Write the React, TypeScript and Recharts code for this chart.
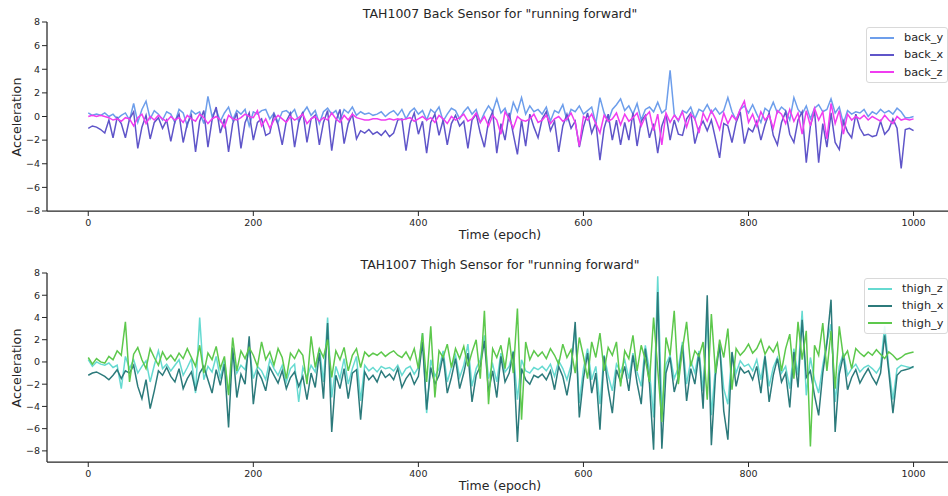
import { LineChart, Line, XAxis, YAxis, Legend } from "recharts";

const FONT = '"DejaVu Sans", sans-serif';
const INK = "#262626";

// sampled every 5 epochs, one row per 50 epochs
const backY = [
  0.3, 0.1, 0.2, 0.1, 0.3, 0.0, 0.2, -0.2, 0.1, 0.3,
  -0.3, 1.1, -0.5, 0.6, 1.3, -0.2, 0.5, 0.2, -0.3, 0.4,
  0.2, -0.5, 0.6, 0.3, -0.8, 0.5, 0.2, 0.4, -0.6, 1.7,
  0.0, 0.6, -0.4, 0.3, 0.8, -0.3, 0.5, 0.2, 0.6, -0.8,
  0.4, 0.2, 0.5, 0.6, -0.2, 0.3, -0.5, 0.4, 0.5, 0.2,
  0.6, -0.4, 0.3, 0.8, 0.1, 0.5, -0.6, 0.4, 0.7, 0.2,
  0.5, -0.3, 0.6, 0.3, 0.8, 0.1, 0.4, 0.2, 0.3, 0.1,
  0.2, 0.4, 0.0, 0.3, 0.5, 0.1, 0.6, -0.2, 0.4, 0.7,
  0.2, 0.5, -0.3, 0.6, 0.3, 0.8, -0.4, 0.2, 0.7, 0.5,
  -0.2, 0.4, 0.8, 0.2, 0.6, -0.5, 0.3, 0.9, 0.4, 1.5,
  0.3, 0.7, -0.3, 1.2, 0.4, 1.6, 0.2, 0.9, 0.4, 0.6,
  0.2, 0.8, -0.4, 0.5, 0.3, 1.0, -0.3, 0.6, 0.4, 0.9,
  0.2, 0.5, 0.8, -0.6, 1.6, 0.3, -0.4, 0.6, 1.0, 1.5,
  0.5, 0.9, 0.2, 1.1, -0.3, 0.6, 0.8, 0.4, 1.2, 0.3,
  0.6, 3.9, 0.2, -0.4, 0.5, 0.3, 0.8, -0.2, 0.6, 0.4,
  1.0, 0.3, 0.7, 0.2, 0.5, 1.6, 0.4, -0.3, 0.6, 0.9,
  0.3, 1.0, 0.2, -0.5, 0.7, 0.4, 1.2, 0.3, 0.8, 0.5,
  -0.3, 1.6, 0.6, 0.2, 0.9, -0.2, 0.7, 1.0, 0.4, 0.6,
  1.5, 0.3, 0.8, -0.6, 0.5, 0.2, 0.4, 0.3, 0.6, 0.0,
  0.4, 0.2, 0.6, 0.3, 0.5, 0.2, 0.7, 0.4, -0.1, -0.1,
  0.0,
];

const backX = [
  -1.0, -0.8, -0.9, -1.1, -1.4, -0.3, -1.8, -0.1, -0.6, -1.8,
  -0.2, 0.4, -2.7, -0.9, 0.1, -1.9, -0.5, -0.1, -1.0, -0.3,
  -2.1, -0.4, 0.2, -2.2, -0.6, 0.1, -3.0, -0.4, 0.5, -2.6,
  -0.3, 0.8, -1.4, -0.2, -3.0, -0.6, 0.3, -2.7, -0.5, 0.3,
  -2.0, -0.5, -0.2, -1.6, -1.4, 0.2, -0.7, -2.4, -0.4, 0.3,
  -2.6, -0.5, 0.4, -2.2, -0.2, 0.1, -2.4, -0.5, 0.5, -2.9,
  -0.4, 0.6, -2.3, -0.6, 0.2, -1.9, -1.2, -1.4, -1.1, -1.5,
  -1.3, -1.6, -1.2, -1.7, -1.4, -0.3, -0.2, -2.9, -0.6, 0.3,
  -1.5, -0.4, -3.1, -0.5, 0.2, -1.6, -0.3, -2.4, -0.6, 0.1,
  -0.8, -0.4, -2.7, -0.3, 0.2, -1.4, -2.6, -0.4, 0.4, -3.1,
  -0.6, -2.0, 0.3, -1.5, -3.2, -0.3, -2.5, 0.2, -0.9, -1.8,
  -0.2, 0.4, -1.2, -0.4, -3.0, -0.8, 0.2, -1.0, -0.4, -2.6,
  -0.9, 0.3, -1.4, -0.5, -3.7, -1.0, 0.2, -2.0, -0.3, -2.4,
  -0.5, -2.0, 0.3, -2.5, -0.4, 0.1, -1.8, -0.6, -3.1, -0.8,
  0.2, -2.0, -0.3, -1.5, -1.6, -0.2, 0.3, -2.3, -1.0, -0.4,
  -1.2, -0.3, -1.9, -3.5, -0.6, -0.8, -2.2, -0.5, 0.4, -2.3,
  -1.0, -1.3, -0.4, -2.0, -0.7, 0.3, -1.6, -2.4, -0.5, 0.4,
  -1.5, -2.2, -0.3, 0.4, -3.9, -0.8, 0.5, -3.9, -0.6, -2.6,
  0.3, -2.2, -2.8, -0.4, -1.3, -1.8, 0.2, -1.0, -1.6, -1.5,
  -1.7, -1.6, -0.4, -1.5, -1.1, -0.2, -1.0, -4.4, -1.1, -1.0,
  -1.2,
];

const backZ = [
  0.0, 0.1, 0.0, 0.1, 0.0, -0.1, -0.3, -0.2, -0.4, -0.1,
  -0.2, -0.8, -0.1, 0.2, -0.6, 0.0, -0.3, 0.1, -0.2, -0.4,
  0.0, -0.3, -0.1, -0.5, 0.1, -0.2, -0.4, 0.2, -0.1, -0.6,
  -0.2, 0.0, -0.3, -0.9, 0.1, -0.2, -0.3, -0.1, 0.2, 0.0,
  -0.1, 0.5, -0.8, -0.2, -1.0, -0.3, 0.1, -0.2, -0.5, 0.0,
  -0.3, -0.1, 0.2, -0.6, -0.2, 0.0, -0.4, -0.1, -0.3, 0.3,
  -0.2, -0.5, 0.1, -0.3, 0.2, -0.1, -0.2, -0.3, -0.3, -0.2,
  -0.2, -0.3, -0.3, -0.2, -0.3, -0.2, -0.3, -0.2, -0.1, -0.4,
  -0.2, 0.0, -0.3, -0.1, -0.5, 0.1, -0.2, -0.6, 0.0, -0.3,
  -0.1, 0.2, -0.4, -0.2, 0.3, -0.5, 0.0, -0.8, 0.1, -0.3,
  -1.5, 0.4, -0.2, -1.0, 0.0, -0.3, -0.4, -0.2, 0.2, -0.5,
  -0.3, 0.1, -0.6, -0.2, 0.0, -0.4, -0.2, 0.3, -0.5, -2.5,
  0.0, -0.3, 0.2, -0.6, -1.4, 0.1, -0.4, -0.2, 0.3, -0.7,
  0.2, -0.4, -0.1, 0.3, -0.8, 0.0, 0.4, -1.2, 0.2, -2.4,
  0.3, -0.5, 0.1, -0.3, 0.4, -0.9, 0.2, -0.2, -1.4, 0.3,
  -0.4, 0.5, -0.2, -1.1, 0.3, -0.6, 0.1, -0.3, 0.6, 1.3,
  -0.5, 0.2, -0.8, 0.4, -0.3, 0.1, -1.0, 0.5, 0.2, -0.6,
  0.6, -0.4, 0.3, -1.5, 0.5, -0.8, 0.7, -0.3, 0.4, -1.9,
  1.1, -0.6, 0.5, -1.5, 0.2, -0.3, 0.0, -0.2, 0.1, -0.3,
  0.0, -0.2, -0.4, 0.1, -0.3, -0.6, 0.0, -0.3, -0.2, -0.3,
  -0.2,
];

const thighZ = [
  0.2, -0.4, 0.0, -0.2, -0.3, -0.1, -0.5, -0.3, -2.4, 0.5,
  -0.6, 0.2, -1.0, -0.4, 0.1, -1.8, -0.3, 1.0, -0.6, -0.2,
  -0.8, -0.3, 0.2, -1.2, -0.5, 0.3, -2.8, 4.0, -1.6, -0.4,
  -0.9, 0.5, -1.5, 0.2, -2.9, 0.8, -1.0, -0.3, -0.7, 1.2,
  -1.5, -0.4, -0.8, -1.6, 0.2, -0.6, -1.2, -0.3, -1.8, -0.6,
  -0.2, -3.6, -0.5, -1.4, -0.3, -0.9, 1.2, -1.8, 4.0, -3.2,
  -0.4, -1.5, 0.3, -2.0, -0.6, 0.5, -3.5, -0.3, -0.8, -0.5,
  -0.9, -0.4, -0.6, -0.5, -0.8, -0.3, -1.2, -0.6, -0.4, -1.1,
  -0.5, 2.6, -4.6, 0.2, -1.3, -0.6, 1.0, -1.8, -0.5, 0.6,
  -1.4, -0.3, 1.6, -2.2, -0.6, 0.2, 2.4, -1.5, -0.2, -1.8,
  0.8, -0.9, -0.4, 1.0, -3.4, 0.2, -0.8, -1.0, -0.5, -0.7,
  -0.4, -0.8, -0.2, -1.3, 0.1, -0.6, -1.6, -0.3, 3.1, -3.7,
  -0.6, 1.2, -1.6, -0.4, -3.8, 0.6, -1.2, -2.6, -0.2, -0.9,
  0.2, -1.5, 0.8, -0.9, -2.2, 1.5, -0.8, -5.0, 7.7, -4.5,
  -0.2, 0.6, -1.5, -0.5, 1.8, -2.0, 0.1, -1.0, 1.0, -2.6,
  4.2, -4.8, -0.4, 1.4, -2.4, -3.8, 0.8, -1.0, 0.1, -0.4,
  -0.2, -0.8, 0.2, -1.6, 0.6, -2.2, -0.5, 0.4, -1.0, -0.4,
  -2.4, 1.2, -1.2, 4.6, -3.0, 0.4, -1.6, -2.8, -0.3, 1.8,
  3.4, -3.6, -0.4, 0.8, -1.2, -0.6, -0.2, -0.9, -0.5, -0.3,
  -0.6, -1.0, -0.4, 3.2, -0.5, -3.4, -0.6, -0.3, -0.4, -0.5,
  -0.5,
];

const thighX = [
  -1.2, -1.0, -0.9, -1.1, -1.3, -1.6, -1.2, -0.7, -1.5, -0.8,
  -1.0, -0.3, -2.2, -3.3, -1.6, -4.2, -2.6, -0.8, -1.2, -0.5,
  -1.3, -1.8, -0.6, -2.4, -1.5, -0.9, -2.6, -1.0, -0.4, -1.6,
  -2.8, -0.7, -2.1, -0.2, -5.9, 1.3, -3.2, -1.1, -2.0, 2.3,
  -3.8, -0.8, -1.5, -2.6, -0.5, -1.2, -1.9, -0.8, -2.4, -1.4,
  -0.9, -2.2, -1.3, -3.4, -1.0, -2.3, 0.8, -3.3, 3.5, -6.3,
  -1.2, -2.4, -0.6, -3.3, -1.0, -0.7, -5.2, -0.9, -1.6, -1.2,
  -1.8, -0.8, -1.4, -1.1, -1.6, -0.6, -2.3, -1.5, -1.0, -2.0,
  -1.3, 1.8, -4.3, -0.5, -2.0, -1.2, 0.6, -2.8, -1.4, 0.3,
  -2.4, -1.0, 0.8, -3.6, -1.2, -0.4, 1.9, -2.7, -0.8, -3.2,
  0.5, -1.8, -1.0, 0.9, -7.2, -0.6, -1.6, -2.0, -1.2, -1.4,
  -1.1, -1.6, -0.8, -2.5, -0.4, -1.3, -3.0, -0.9, 3.6, -5.0,
  -1.5, 0.8, -2.8, -1.0, -6.1, 0.5, -2.4, -4.6, -0.7, -1.8,
  -0.4, -2.6, 0.6, -1.9, -3.8, 1.2, -2.0, -7.9, 6.3, -7.8,
  -1.0, 0.4, -2.7, -1.3, 1.5, -3.5, -0.6, -2.0, 0.8, -4.2,
  6.0, -7.5, -1.2, 1.6, -4.4, -7.0, 0.9, -2.2, -0.5, -1.0,
  -0.8, -1.6, -0.4, -2.8, 0.5, -3.6, -1.2, 0.3, -1.8, -1.0,
  -4.1, 0.9, -2.3, 3.8, -1.4, -0.8, -3.0, -4.8, -1.0, 1.7,
  5.6, -6.3, -1.1, 0.6, -2.5, -1.4, -0.7, -1.9, -1.2, -0.6,
  -1.4, -2.0, -1.0, 2.4, -0.9, -4.6, -1.2, -0.8, -0.7, -0.6,
  -0.4,
];

const thighY = [
  0.4, -0.2, 0.3, 0.0, -0.1, 0.5, 0.2, 1.0, 0.6, 3.6,
  -1.8, 0.7, 1.3, 0.2, -0.6, 1.2, 0.4, -0.3, 0.9, 0.2,
  0.6, 0.1, 0.8, 0.3, 1.2, 0.4, -0.4, 1.5, -1.0, 0.8,
  0.2, 1.4, -0.6, 0.5, -3.0, 2.2, -0.8, 1.0, 0.3, 1.3,
  0.6, -0.4, 1.8, 0.2, 0.9, -0.3, 1.2, 0.4, -1.5, 0.8,
  0.3, 1.1, 0.6, -2.0, 2.3, -0.5, 1.2, 0.4, 2.0, -1.4,
  1.0, 0.2, 1.3, -0.8, 0.6, 1.2, -0.5, 0.9, 0.5, 0.8,
  0.6, 0.9, 0.5, 0.8, 1.0, 0.6, 0.4, 0.9, 0.2, 1.2,
  -0.6, 2.6, -1.8, 3.2, -3.2, 1.0, 0.4, 1.6, -0.5, 1.2,
  0.3, 1.4, -0.4, 0.9, 2.0, -1.5, 4.6, -3.8, 1.2, 0.4,
  1.5, -0.6, 2.2, -1.0, 4.8, -5.2, 1.8, 0.2, 1.0, 0.5,
  0.9, 0.3, 1.2, 0.6, -0.2, 1.6, 0.4, 1.1, -1.0, 2.2,
  0.5, -1.5, 1.8, 0.4, 2.6, -0.8, 1.3, 0.6, 1.8, -2.2,
  1.0, 0.3, 2.4, -0.8, 1.5, 0.2, -1.8, 4.0, -0.6, -5.4,
  2.2, 0.6, 4.6, -2.0, 1.2, 3.6, -0.4, 1.0, 0.5, 1.8,
  -3.4, 4.3, -1.0, 2.0, 0.4, 3.0, -2.5, 1.2, 0.6, 1.0,
  1.6, 0.8, 1.2, 2.0, 0.7, 1.4, 0.9, 1.7, -0.8, 1.2,
  2.5, -1.5, 3.6, 0.2, 2.8, -7.6, 1.5, 0.6, 3.5, -0.8,
  2.8, -2.4, 3.2, 0.4, 1.0, -0.6, 1.2, 0.8, 0.5, 0.9,
  0.6, 1.1, 0.7, 0.3, 0.9, 0.6, 0.2, 0.4, 0.7, 0.8,
  0.9,
];

const xTicks = [0, 200, 400, 600, 800, 1000];
const yTicks = [-8, -6, -4, -2, 0, 2, 4, 6, 8];

const epochs = backX.map((_, i) => i * 5);

const backRows = epochs.map((t, i) => ({
  t,
  back_y: backY[i],
  back_x: backX[i],
  back_z: backZ[i],
}));

const thighRows = epochs.map((t, i) => ({
  t,
  thigh_z: thighZ[i],
  thigh_x: thighX[i],
  thigh_y: thighY[i],
}));

const backSeries = [
  { key: "back_y", color: "#6d9eeb" },
  { key: "back_x", color: "#5f55c9" },
  { key: "back_z", color: "#f03cf0" },
];

const thighSeries = [
  { key: "thigh_z", color: "#66dad1" },
  { key: "thigh_x", color: "#2c7a7b" },
  { key: "thigh_y", color: "#5dc84c" },
];

const minus = (v) => String(v).replace("-", "\u2212");

function LegendBox({ series, width }) {
  return (
    <div
      style={{
        boxSizing: "border-box",
        width,
        border: "1px solid #d9d9d9",
        borderRadius: 3,
        background: "rgba(255,255,255,0.85)",
        padding: "1px 0 1px 3px",
        fontFamily: FONT,
      }}
    >
      {series.map((s) => (
        <div
          key={s.key}
          style={{ display: "flex", alignItems: "center", height: 17.3 }}
        >
          <div style={{ width: 24, height: 2, background: s.color }} />
          <span style={{ marginLeft: 10, fontSize: 11.3, color: INK }}>
            {s.key}
          </span>
        </div>
      ))}
    </div>
  );
}

function Panel({ top, height, plotTop, axisHeight, title, rows, series, yDomain, legendTop, legendLeft, legendWidth }) {
  const plotBottom = height - axisHeight;
  return (
    <div style={{ position: "absolute", left: 0, top, width: 1000, height }}>
      <div
        style={{
          position: "absolute",
          left: 0,
          width: 1000,
          top: plotTop - 15,
          textAlign: "center",
          fontFamily: FONT,
          fontSize: 12.5,
          lineHeight: "14px",
          color: INK,
          whiteSpace: "pre",
        }}
      >
        {title}
      </div>
      <div
        style={{
          position: "absolute",
          left: 0,
          width: 1000,
          top: plotBottom + 17,
          textAlign: "center",
          fontFamily: FONT,
          fontSize: 12.5,
          lineHeight: "14px",
          color: INK,
        }}
      >
        Time (epoch)
      </div>
      <div
        style={{
          position: "absolute",
          left: 17.3 - 60,
          top: (plotTop + plotBottom) / 2 - 8,
          width: 120,
          height: 16,
          lineHeight: "16px",
          textAlign: "center",
          transform: "rotate(-90deg)",
          fontFamily: FONT,
          fontSize: 12.7,
          color: INK,
        }}
      >
        Acceleration
      </div>
      <LineChart
        width={1000}
        height={height}
        data={rows}
        margin={{ top: plotTop, right: 46, left: 0, bottom: 0 }}
      >
        <XAxis
          dataKey="t"
          type="number"
          domain={[-50, 1049]}
          ticks={xTicks}
          allowDataOverflow
          height={axisHeight}
          tickSize={5}
          tickMargin={3}
          axisLine={{ stroke: INK, strokeWidth: 1.25 }}
          tickLine={{ stroke: INK, strokeWidth: 1 }}
          tick={{ fill: INK, fontSize: 9.5, fontFamily: FONT }}
        />
        <XAxis
          xAxisId="top"
          orientation="top"
          dataKey="t"
          type="number"
          domain={[-50, 1049]}
          height={0}
          tick={false}
          tickLine={false}
          axisLine={{ stroke: INK, strokeWidth: 1.25 }}
        />
        <YAxis
          type="number"
          domain={yDomain}
          ticks={yTicks}
          allowDataOverflow
          width={47}
          tickSize={5}
          tickMargin={2}
          tickFormatter={minus}
          axisLine={{ stroke: INK, strokeWidth: 1.25 }}
          tickLine={{ stroke: INK, strokeWidth: 1 }}
          tick={{ fill: INK, fontSize: 9.5, fontFamily: FONT }}
        />
        {series.map((s) => (
          <Line
            key={s.key}
            type="linear"
            dataKey={s.key}
            stroke={s.color}
            strokeWidth={1.5}
            dot={false}
            activeDot={false}
            isAnimationActive={false}
          />
        ))}
        <Legend
          layout="horizontal"
          verticalAlign="middle"
          align="center"
          wrapperStyle={{ top: legendTop, left: legendLeft, width: "auto", height: "auto" }}
          content={() => <LegendBox series={series} width={legendWidth} />}
        />
      </LineChart>
    </div>
  );
}

export default function App() {
  return (
    <div
      style={{
        position: "absolute",
        left: 0,
        top: 0,
        width: 948,
        height: 496,
        overflow: "hidden",
        background: "#fff",
      }}
    >
      <Panel
        top={0}
        height={250}
        plotTop={22}
        axisHeight={39}
        title={'TAH1007 Back Sensor for "running forward"'}
        rows={backRows}
        series={backSeries}
        yDomain={[-8, 8]}
        legendTop={27}
        legendLeft={866}
        legendWidth={82}
      />
      <Panel
        top={250}
        height={246}
        plotTop={23}
        axisHeight={34}
        title={'TAH1007 Thigh Sensor for "running forward"'}
        rows={thighRows}
        series={thighSeries}
        yDomain={[-9, 8]}
        legendTop={28}
        legendLeft={864}
        legendWidth={84}
      />
    </div>
  );
}
